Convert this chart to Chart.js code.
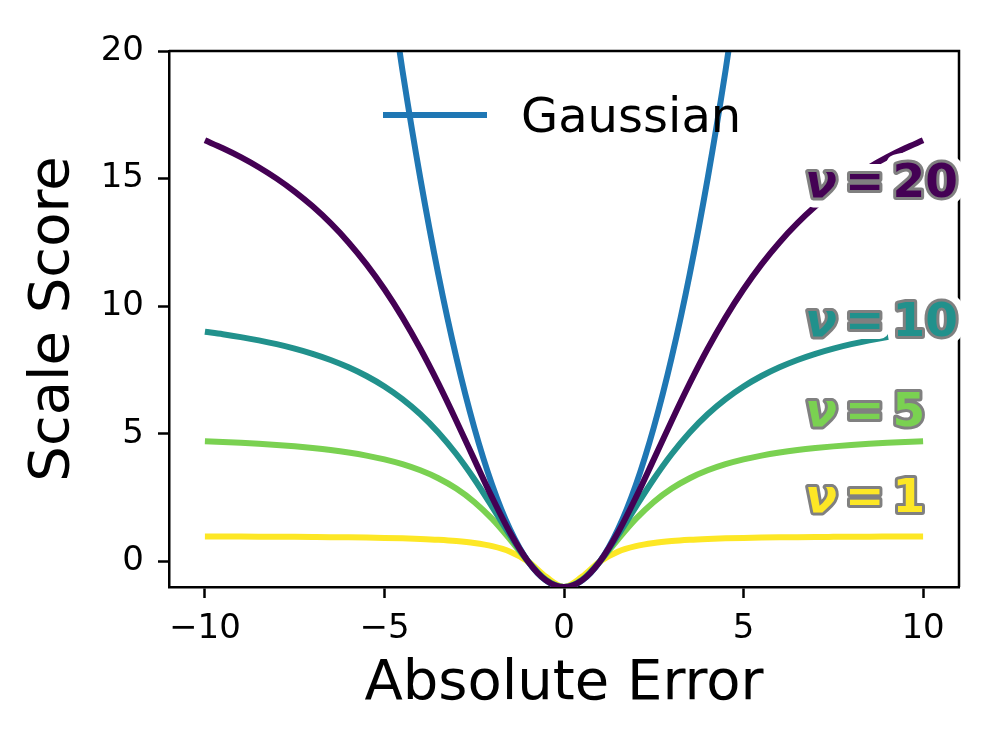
<!DOCTYPE html>
<html>
<head>
<meta charset="utf-8">
<script src="https://cdn.jsdelivr.net/npm/chart.js@4.4.1/dist/chart.umd.min.js"></script>
<style>
  html, body { margin: 0; padding: 0; background: #fff; }
  #wrap { width: 996px; height: 747px; }
</style>
</head>
<body>
<div id="wrap"><canvas id="c" width="996" height="747"></canvas></div>
<script>
// ---- data ----
const xValues = [-10,-9.5,-9,-8.5,-8,-7.5,-7,-6.5,-6,-5.5,-5,-4.5,-4,-3.5,-3,-2.5,-2,-1.5,-1,-0.5,0,
                 0.5,1,1.5,2,2.5,3,3.5,4,4.5,5,5.5,6,6.5,7,7.5,8,8.5,9,9.5,10];
const nu1 = [0.980,0.978,0.976,0.973,0.969,0.965,0.960,0.954,0.946,0.936,0.923,0.906,0.882,0.849,0.800,0.724,0.600,0.385,0.000,-0.600,-1.000,
             -0.600,0.000,0.385,0.600,0.724,0.800,0.849,0.882,0.906,0.923,0.936,0.946,0.954,0.960,0.965,0.969,0.973,0.976,0.978,0.980];
const nu5 = [4.714,4.685,4.651,4.612,4.565,4.510,4.444,4.365,4.268,4.149,4.000,3.812,3.571,3.261,2.857,2.333,1.667,0.862,0.000,-0.714,-1.000,
             -0.714,0.000,0.862,1.667,2.333,2.857,3.261,3.571,3.812,4.000,4.149,4.268,4.365,4.444,4.510,4.565,4.612,4.651,4.685,4.714];
const nu10 = [9.000,8.903,8.791,8.663,8.514,8.340,8.136,7.895,7.609,7.267,6.857,6.364,5.769,5.056,4.211,3.231,2.143,1.020,0.000,-0.732,-1.000,
              -0.732,0.000,1.020,2.143,3.231,4.211,5.056,5.769,6.364,6.857,7.267,7.609,7.895,8.136,8.340,8.514,8.663,8.791,8.903,9.000];
const nu20 = [16.500,16.190,15.842,15.447,15.000,14.492,13.913,13.253,12.500,11.642,10.667,9.565,8.333,6.977,5.517,4.000,2.500,1.124,0.000,-0.741,-1.000,
              -0.741,0.000,1.124,2.500,4.000,5.517,6.977,8.333,9.565,10.667,11.642,12.500,13.253,13.913,14.492,15.000,15.447,15.842,16.190,16.500];
const gaussX = [-5,-4.5,-4,-3.5,-3,-2.5,-2,-1.5,-1,-0.5,0,0.5,1,1.5,2,2.5,3,3.5,4,4.5,5];
const gaussY = [24,19.25,15,11.25,8,5.25,3,1.25,0,-0.75,-1,-0.75,0,1.25,3,5.25,8,11.25,15,19.25,24];

const xTicks = [-10,-5,0,5,10];
const yTicks = [0,5,10,15,20];

const seriesNames = ['Gaussian','ν = 1','ν = 5','ν = 10','ν = 20'];
const nuLabelText = ['1','5','10','20'];
const nuLabelX = [6.63,6.63,6.63,6.63];
const nuLabelY = [2.51,5.88,9.41,14.82];

const colors = ['#1f77b4','#fde725','#7ad151','#21918c','#440154'];

function pts(xs, ys){ return xs.map((x,i)=>({x:x, y:ys[i]})); }

const FONT = '"DejaVu Sans", "Liberation Sans", sans-serif';

const ds = (label, data, color, order) => ({
  label, data, borderColor: color, backgroundColor: color, borderWidth: 6,
  pointRadius: 0, cubicInterpolationMode: 'monotone', fill: false, order, clip: 0,
  borderCapStyle: 'butt'
});

const extras = {
  id: 'extras',
  afterDatasetsDraw(chart) {
    const ctx = chart.ctx;
    const a = chart.chartArea;
    const xs = chart.scales.x, ys = chart.scales.y;
    // top & right spines
    ctx.save();
    ctx.strokeStyle = '#000'; ctx.lineWidth = 2.5;
    ctx.beginPath();
    ctx.moveTo(a.left, a.top); ctx.lineTo(a.right, a.top); ctx.lineTo(a.right, a.bottom);
    ctx.stroke();
    ctx.restore();

    // legend (Gaussian)
    ctx.save();
    const lx0 = a.left + 214, ly = a.top + 64;
    ctx.strokeStyle = colors[0]; ctx.lineWidth = 6;
    ctx.beginPath(); ctx.moveTo(lx0, ly); ctx.lineTo(lx0 + 104, ly); ctx.stroke();
    ctx.fillStyle = '#000';
    ctx.font = '48px ' + FONT;
    ctx.textBaseline = 'middle'; ctx.textAlign = 'left';
    ctx.fillText(seriesNames[0], lx0 + 138, ly + 5);
    ctx.restore();

    // ν labels with white halo and grey outline
    for (let i = 0; i < nuLabelText.length; i++) {
      const px = xs.getPixelForValue(nuLabelX[i]);
      const py = ys.getPixelForValue(nuLabelY[i]);
      const parts = [
        {t: 'ν', f: 'italic bold 47px ' + FONT},
        {t: '=', f: 'bold 47px ' + FONT},
        {t: nuLabelText[i], f: 'bold 47px ' + FONT}
      ];
      let x = px + 3;
      const pos = [];
      for (const p of parts) {
        ctx.font = p.f;
        pos.push(x);
        x += ctx.measureText(p.t).width + 8;
      }
      ctx.save();
      ctx.textBaseline = 'middle'; ctx.textAlign = 'left';
      ctx.lineJoin = 'round';
      parts.forEach((p, k) => {
        ctx.font = p.f; ctx.strokeStyle = '#fff'; ctx.lineWidth = 20;
        ctx.strokeText(p.t, pos[k], py + 2);
      });
      parts.forEach((p, k) => {
        ctx.font = p.f; ctx.strokeStyle = '#808080'; ctx.lineWidth = 6;
        ctx.strokeText(p.t, pos[k], py + 2);
      });
      parts.forEach((p, k) => {
        ctx.font = p.f; ctx.fillStyle = colors[i + 1];
        ctx.fillText(p.t, pos[k], py + 2);
      });
      ctx.restore();
    }
  }
};

const fmt = v => (v < 0 ? '\u2212' + Math.abs(v) : String(v));

new Chart(document.getElementById('c'), {
  type: 'line',
  data: {
    datasets: [
      ds(seriesNames[0], pts(gaussX, gaussY), colors[0], 5),
      ds(seriesNames[1], pts(xValues, nu1), colors[1], 4),
      ds(seriesNames[2], pts(xValues, nu5), colors[2], 3),
      ds(seriesNames[3], pts(xValues, nu10), colors[3], 2),
      ds(seriesNames[4], pts(xValues, nu20), colors[4], 1)
    ]
  },
  options: {
    responsive: false,
    animation: false,
    layout: { padding: { left: 0, top: 51, right: 37, bottom: 0 } },
    plugins: { legend: { display: false }, tooltip: { enabled: false } },
    scales: {
      x: {
        type: 'linear', min: -11, max: 11,
        afterFit(s) { s.height = 160; },
        afterBuildTicks(s) { s.ticks = xTicks.map(v => ({value: v})); },
        ticks: { font: { family: FONT, size: 34 }, color: '#000', padding: 11, maxRotation: 0, callback: fmt },
        grid: { drawOnChartArea: false, drawTicks: true, tickLength: 11, tickWidth: 2.5, tickColor: '#000' },
        border: { display: true, color: '#000', width: 2.5 },
        title: { display: true, text: 'Absolute Error', color: '#000',
                 font: { family: FONT, size: 56, lineHeight: 1.2 }, padding: { top: 0, bottom: 29 } }
      },
      y: {
        type: 'linear', min: -1, max: 20,
        afterFit(s) { s.width = 169; },
        afterBuildTicks(s) { s.ticks = yTicks.map(v => ({value: v})); },
        ticks: { font: { family: FONT, size: 34 }, color: '#000', padding: 14, callback: fmt },
        grid: { drawOnChartArea: false, drawTicks: true, tickLength: 11, tickWidth: 2.5, tickColor: '#000' },
        border: { display: true, color: '#000', width: 2.5 },
        title: { display: true, text: 'Scale Score', color: '#000',
                 font: { family: FONT, size: 56, lineHeight: 1.2 }, padding: { top: 20, bottom: 0 } }
      }
    }
  },
  plugins: [extras]
});
</script>
</body>
</html>
